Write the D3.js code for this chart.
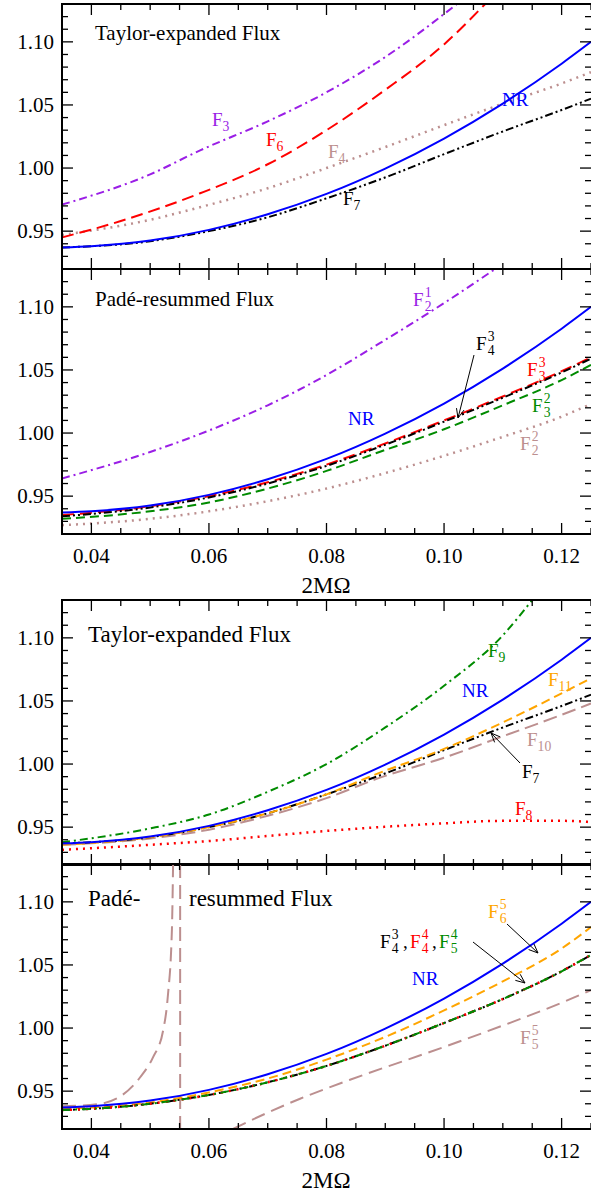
<!DOCTYPE html>
<html><head><meta charset="utf-8">
<script src="https://cdn.jsdelivr.net/npm/d3@7"></script>
<style>body{margin:0;background:#fff}</style>
</head><body><svg id="c" width="591" height="1193" font-family="'Liberation Serif','Times New Roman',Times,'DejaVu Serif',serif"></svg>
<script>
const xTicks=[0.04,0.06,0.08,0.10,0.12];
const yTicks=[0.95,1.00,1.05,1.10];
// Panel 1: Taylor
const nrX=[0.035,0.04,0.05,0.06,0.07,0.08,0.09,0.10,0.11,0.12,0.125];
const nrY=[0.937,0.938,0.9425,0.951,0.9634,0.9795,0.9996,1.0234,1.0511,1.0827,1.100];
const t3X=[0.035,0.05,0.0585,0.07,0.08,0.09,0.1022];
const t3Y=[0.971,0.995,1.014,1.037,1.060,1.088,1.13];
const t6X=[0.035,0.045,0.0585,0.07,0.08,0.09,0.10,0.107];
const t6Y=[0.945,0.958,0.980,1.003,1.030,1.062,1.098,1.13];
const t4X=[0.035,0.05,0.0585,0.07,0.08,0.0908,0.10,0.11,0.12,0.125];
const t4Y=[0.947,0.959,0.969,0.984,1.000,1.018,1.034,1.051,1.067,1.076];
const t7X=[0.035,0.05,0.06,0.07,0.08,0.0908,0.10,0.11,0.12,0.125];
const t7Y=[0.937,0.942,0.950,0.961,0.976,0.994,1.011,1.029,1.046,1.055];
// Panel 2: Pade
const p21X=[0.035,0.05,0.06,0.07,0.08,0.089,0.10,0.1087];
const p21Y=[0.964,0.985,1.002,1.022,1.046,1.071,1.103,1.13];
const p33X=[0.035,0.05,0.06,0.07,0.08,0.089,0.10,0.11,0.12,0.125];
const p33Y=[0.935,0.942,0.950,0.961,0.975,0.990,1.010,1.029,1.049,1.060];
const p43Y=[0.934,0.941,0.949,0.960,0.974,0.989,1.009,1.028,1.048,1.059];
const p32Y=[0.932,0.938,0.945,0.956,0.970,0.985,1.003,1.022,1.042,1.054];
const p22Y=[0.927,0.932,0.938,0.946,0.956,0.967,0.982,0.997,1.013,1.023];
// Panel 3: Taylor higher
const t9X=[0.035,0.05,0.06,0.07,0.08,0.09,0.10,0.11,0.115];
const t9Y=[0.938,0.949,0.960,0.978,1.000,1.029,1.062,1.102,1.13];
const t11Y=[0.936,0.942,0.950,0.961,0.976,0.993,1.012,1.033,1.056,1.068];
const t10Y=[0.936,0.941,0.948,0.959,0.973,0.989,1.005,1.022,1.039,1.048];
const t8Y=[0.932,0.936,0.939,0.943,0.947,0.950,0.953,0.955,0.955,0.954];
// Panel 4: Pade higher
const p4X=[0.035,0.04,0.05,0.06,0.07,0.08,0.09,0.10,0.11,0.12,0.125];
const p65Y=[0.936,0.937,0.941,0.949,0.960,0.975,0.993,1.014,1.037,1.063,1.080];
const p44Y=[0.935,0.936,0.940,0.947,0.957,0.970,0.986,1.004,1.023,1.045,1.058];
const p55aX=[0.035,0.0415,0.0483,0.0505,0.0522,0.0530,0.0537,0.0539];
const p55aY=[0.938,0.940,0.961,0.977,0.998,1.025,1.078,1.13];
const p55bX=[0.0641,0.07,0.0755,0.084,0.10,0.11,0.12,0.125];
const p55bY=[0.92,0.933,0.944,0.959,0.985,1.002,1.020,1.030];
const poleX=0.0551;

const svg=d3.select("#c");
const L=62,R=591;
const x=d3.scaleLinear().domain([0.035,0.125]).range([L,R]);
const tops=[4,269,600,864],H=265;
const C={blue:"#0000ff",purple:"#9a1ee6",red:"#ff0000",rosy:"#bc8f8f",black:"#000",green:"#008b00",orange:"#ffa500"};
const DS={dashdot:"8,4,2,4",dot:"2,5",ddd:"8,3,2,3,2,3"};

function panel(i){
  const t=tops[i];
  const y=d3.scaleLinear().domain([0.92,1.13]).range([t+H,t]);
  const g=svg.append("g");
  const cp="cp"+i;
  svg.append("clipPath").attr("id",cp).append("rect").attr("x",L).attr("y",t).attr("width",R-L+5).attr("height",H);
  const lg=g.append("g").attr("clip-path",`url(#${cp})`);
  const ax=g.append("g").attr("stroke","#000").attr("stroke-width",1.3);
  d3.range(0.92,1.1301,0.01).forEach(v=>{
    const maj=yTicks.some(m=>Math.abs(m-v)<1e-6), len=maj?11:6;
    ax.append("line").attr("x1",L).attr("x2",L+len).attr("y1",y(v)).attr("y2",y(v));
    ax.append("line").attr("x1",R).attr("x2",R-len).attr("y1",y(v)).attr("y2",y(v));
  });
  d3.range(0.035,0.1251,0.005).forEach(v=>{
    const maj=xTicks.some(m=>Math.abs(m-v)<1e-6), len=maj?11:6;
    ax.append("line").attr("x1",x(v)).attr("x2",x(v)).attr("y1",t+H).attr("y2",t+H-len);
    ax.append("line").attr("x1",x(v)).attr("x2",x(v)).attr("y1",t).attr("y2",t+len);
  });
  g.append("path").attr("d",`M${R+2},${t}H${L}V${t+H}H${R+2}`).attr("fill","none").attr("stroke","#000").attr("stroke-width",2);
  yTicks.forEach(v=>g.append("text").attr("x",54).attr("y",y(v)+7).attr("text-anchor","end").attr("font-size",21).text(v.toFixed(2)));
  if(i==1||i==3){
    xTicks.forEach(v=>g.append("text").attr("x",x(v)).attr("y",t+H+29).attr("text-anchor","middle").attr("font-size",21).text(v.toFixed(2)));
    g.append("text").attr("x",326).attr("y",t+H+59).attr("text-anchor","middle").attr("font-size",23).text("2MΩ");
  }
  return {y,lg,g};
}
function curve(p,xs,ys,col,dash,w){
  const line=d3.line().x((d,i)=>x(xs[i])).y(d=>p.y(d)).curve(d3.curveMonotoneX);
  p.lg.append("path").attr("d",line(ys)).attr("fill","none").attr("stroke",col).attr("stroke-width",w||2).attr("stroke-dasharray",dash);
}
function label(p,px,py,col,base,sub,sup,fs){
  fs=fs||19;
  const t=p.g.append("text").attr("x",px).attr("y",py).attr("fill",col).attr("font-size",fs);
  t.append("tspan").text(base);
  if(sup){const bx=px+fs*0.62;
    p.g.append("text").attr("x",bx).attr("y",py-9).attr("fill",col).attr("font-size",fs*0.72).text(sup);
    p.g.append("text").attr("x",bx).attr("y",py+5).attr("fill",col).attr("font-size",fs*0.72).text(sub);
  } else if(sub){t.append("tspan").attr("dy",5).attr("font-size",fs*0.72).text(sub);}
  return t;
}
function arrow(p,x1,y1,x2,y2){
  p.g.append("line").attr("x1",x1).attr("y1",y1).attr("x2",x2).attr("y2",y2).attr("stroke","#000").attr("stroke-width",1);
  const a=Math.atan2(y2-y1,x2-x1),s=10;
  [0.4,-0.4].forEach(d=>p.g.append("line").attr("x1",x2).attr("y1",y2).attr("x2",x2-s*Math.cos(a+d)).attr("y2",y2-s*Math.sin(a+d)).attr("stroke","#000").attr("stroke-width",1));
}
// Panel 1
let p=panel(0);
curve(p,t4X,t4Y,C.rosy,DS.dot,2.5);
curve(p,t3X,t3Y,C.purple,DS.dashdot);
curve(p,t6X,t6Y,C.red,"12,6");
curve(p,t7X,t7Y,C.black,DS.ddd);
curve(p,nrX,nrY,C.blue,null);
p.g.append("text").attr("x",95).attr("y",40).attr("font-size",21).text("Taylor-expanded Flux");
p.g.append("text").attr("x",502).attr("y",106).attr("fill",C.blue).attr("font-size",19).text("NR");
label(p,212,126,C.purple,"F","3");
label(p,266,146,C.red,"F","6");
label(p,328,158,C.rosy,"F","4");
label(p,343,205,C.black,"F","7");
// Panel 2
p=panel(1);
curve(p,p33X,p22Y,C.rosy,DS.dot,2.5);
curve(p,p21X,p21Y,C.purple,DS.dashdot);
curve(p,p33X,p32Y,C.green,"9,5");
curve(p,p33X,p33Y,C.red,"12,6");
curve(p,p33X,p43Y,C.black,DS.ddd);
curve(p,nrX,nrY,C.blue,null);
p.g.append("text").attr("x",95).attr("y",306).attr("font-size",21).text("Padé-resummed Flux");
p.g.append("text").attr("x",348).attr("y",425).attr("fill",C.blue).attr("font-size",19).text("NR");
label(p,413,306,C.purple,"F","2","1");
label(p,476,350,C.black,"F","4","3");
arrow(p,474,355,458,418);
label(p,527,376,C.red,"F","3","3");
label(p,532,412,C.green,"F","3","2");
label(p,520,450,C.rosy,"F","2","2");
// Panel 3
p=panel(2);
curve(p,p33X,t8Y,C.red,DS.dot,2.5);
curve(p,t9X,t9Y,C.green,DS.dashdot);
curve(p,p33X,t10Y,C.rosy,"14,6");
curve(p,t7X,t7Y,C.black,DS.ddd);
curve(p,p33X,t11Y,C.orange,"9,5");
curve(p,nrX,nrY,C.blue,null);
p.g.append("text").attr("x",88).attr("y",642).attr("font-size",23).text("Taylor-expanded Flux");
p.g.append("text").attr("x",462).attr("y",697).attr("fill",C.blue).attr("font-size",19).text("NR");
label(p,488,657,C.green,"F","9");
label(p,548,686,C.orange,"F","11");
label(p,527,746,C.rosy,"F","10");
label(p,522,778,C.black,"F","7");
arrow(p,520,763,491,733);
label(p,515,815,C.red,"F","8");
// Panel 4
p=panel(3);
p.lg.append("line").attr("x1",x(poleX)).attr("x2",x(poleX)).attr("y1",tops[3]).attr("y2",tops[3]+H).attr("stroke",C.rosy).attr("stroke-width",2).attr("stroke-dasharray","14,7");
curve(p,p55aX,p55aY,C.rosy,"14,7");
curve(p,p55bX,p55bY,C.rosy,"14,7");
curve(p,p4X,p65Y,C.orange,"9,5");
curve(p,p4X,p44Y,C.black,DS.ddd);
curve(p,p4X,p44Y,C.red,"2,6",2.5);
curve(p,p4X,p44Y,C.green,"8,5,2,5");
curve(p,nrX,nrY,C.blue,null);
p.g.append("text").attr("x",88).attr("y",906).attr("font-size",23).text("Padé-");
p.g.append("text").attr("x",189).attr("y",906).attr("font-size",23).text("resummed Flux");
p.g.append("text").attr("x",412).attr("y",985).attr("fill",C.blue).attr("font-size",19).text("NR");
label(p,488,918,C.orange,"F","6","5");
arrow(p,507,924,538,953);
label(p,380,948,C.black,"F","4","3");
p.g.append("text").attr("x",403).attr("y",948).attr("font-size",19).text(",");
label(p,410,948,C.red,"F","4","4");
p.g.append("text").attr("x",432).attr("y",948).attr("font-size",19).text(",");
label(p,439,948,C.green,"F","5","4");
arrow(p,473,942,525,983);
label(p,520,1044,C.rosy,"F","5","5");
</script></body></html>
